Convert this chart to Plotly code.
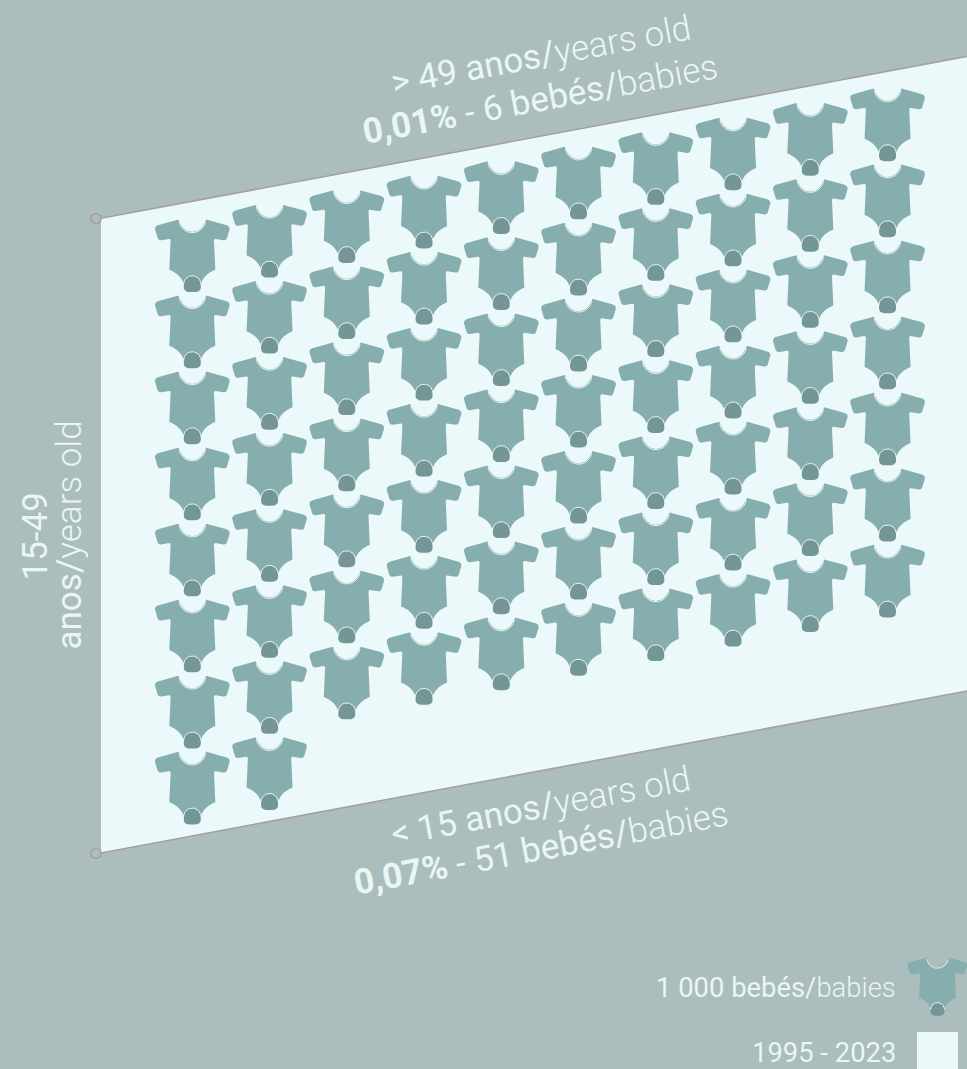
import math
import plotly.graph_objects as go

# ---- data ----
column_counts = [8, 8, 7, 7, 7, 7, 7, 7, 7, 7]   # onesies per column (1 onesie = 1 000 babies)
label_top = ["> 49 anos/", "years old", "0,01%", " - 6 bebés/", "babies"]
label_bottom = ["< 15 anos/", "years old", "0,07%", " - 51 bebés/", "babies"]
label_left = ["15-49", "anos/", "years old"]
legend_unit = ["1 000 bebés/", "babies"]
legend_period = "1995 - 2023"

# ---- styles / geometry ----
W, H = 967, 1069
BG, PANEL, BODY, DARK = "#abbdbc", "#ecf9fa", "#87aeaf", "#749696"
TXT, EDGE, SEAM = "#e9f6f6", "#a8a0a0", "#e6f3f3"
FONT = "Roboto"
ORIGIN = (192.3, 219.3)
COL_DX, COL_DY, ROW_DY = 77.25, -14.55, 76.05
SLOPE = 0.187
PANEL_X0, PANEL_X1, PANEL_TOP, PANEL_BOT = 101, 967, 218.3, 853.0
ANGLE = -10.6


def bez(p0, p1, p2, n=6):
    return [((1-t)**2*p0[0]+2*t*(1-t)*p1[0]+t*t*p2[0],
             (1-t)**2*p0[1]+2*t*(1-t)*p1[1]+t*t*p2[1]) for t in [i/n for i in range(1, n+1)]]


def arc(cx, cy, r, a0, a1, n=24):
    return [(cx+r*math.cos(math.radians(a0+(a1-a0)*i/n)),
             cy+r*math.sin(math.radians(a0+(a1-a0)*i/n))) for i in range(n+1)]


def right_half():
    pts = arc(0, 0.0, 12.5, 90, 28, 12)
    pts += [(14.0, 0.2)]
    pts += [(33.5, 5.6)]
    pts += bez((33.5, 5.6), (38.0, 6.8), (37.2, 10.5))
    pts += [(34.8, 18.5)]
    pts += bez((34.8, 18.5), (34, 21.2), (31, 20.9))
    pts += [(23.5, 19.6)]
    pts += bez((23.5, 19.6), (21.7, 19.6), (21.7, 21.5))
    pts += [(23.0, 50.5)]
    pts += bez((23.0, 50.5), (12.0, 55.0), (9.0, 63.5), 8)
    pts += [(0, 66)]
    return pts


RIGHT = right_half()
BODY_SHAPE = RIGHT + [(-x, y) for x, y in reversed(RIGHT)]
CROTCH = arc(0, 65.2, 8.4, 180, 360, 20) + [(8.5, 67.5)] + bez((8.5, 67.5), (8.6, 72.4), (3.0, 72.8), 8) + \
    [(-3.0, 72.8)] + bez((-3.0, 72.8), (-8.6, 72.4), (-8.5, 67.5), 8)
CROTCH_SEAM = arc(0, 65.2, 8.8, 183, 357, 20)
NECK_SEAM = arc(0, 0, 13.4, 170, 10, 20)[::-1]


def add_part(xs, ys, shape, cx, cy, s=1.0):
    xs.extend(cx+s*p[0] for p in shape)
    ys.extend(cy+s*p[1] for p in shape)
    xs.append(None)
    ys.append(None)


fig = go.Figure()

# panel and edges
fig.add_trace(go.Scatter(
    x=[PANEL_X0, PANEL_X1, PANEL_X1, PANEL_X0],
    y=[PANEL_TOP, PANEL_TOP-SLOPE*(PANEL_X1-PANEL_X0), PANEL_BOT-SLOPE*(PANEL_X1-PANEL_X0), PANEL_BOT],
    fill="toself", fillcolor=PANEL, mode="none", hoverinfo="skip"))
for y0 in (PANEL_TOP, PANEL_BOT):
    fig.add_trace(go.Scatter(
        x=[PANEL_X0, PANEL_X1], y=[y0, y0-SLOPE*(PANEL_X1-PANEL_X0)],
        mode="lines", line=dict(color=EDGE, width=1.6), hoverinfo="skip"))
fig.add_trace(go.Scatter(
    x=[96, 96], y=[PANEL_TOP+0.3, PANEL_BOT+0.3], mode="markers",
    marker=dict(symbol="circle-open", size=10, color=EDGE, line=dict(width=1.6, color=EDGE)),
    hoverinfo="skip"))

# onesies
bx, by, cx_, cy_, sx, sy = [], [], [], [], [], []
centres = []
for col, count in enumerate(column_counts):
    for row in range(count):
        centres.append((ORIGIN[0]+col*COL_DX, ORIGIN[1]+col*COL_DY+row*ROW_DY, 1.0))
centres.append((937.5, 957.5, 0.8))  # legend key
for x0, y0, s in centres:
    add_part(bx, by, BODY_SHAPE, x0, y0, s)
    add_part(cx_, cy_, CROTCH, x0, y0, s)
    add_part(sx, sy, CROTCH_SEAM, x0, y0, s)
    add_part(sx, sy, NECK_SEAM, x0, y0, s)
fig.add_trace(go.Scatter(x=bx, y=by, fill="toself", fillcolor=BODY, mode="none", hoverinfo="skip"))
fig.add_trace(go.Scatter(x=cx_, y=cy_, fill="toself", fillcolor=DARK, mode="none", hoverinfo="skip"))
fig.add_trace(go.Scatter(x=sx, y=sy, mode="lines", line=dict(color=SEAM, width=1), hoverinfo="skip"))


def L(t):
    return f'<span style="font-weight:300">{t}</span>'


def note(text, x, y, angle, size, xanchor="center", yanchor="middle", align="center"):
    fig.add_annotation(text=text, x=x, y=y, xref="x", yref="y", showarrow=False, textangle=angle,
                       font=dict(family=FONT, size=size, color=TXT), align=align,
                       xanchor=xanchor, yanchor=yanchor)


note(f"{label_top[0]}{L(label_top[1])}", 541, 55, ANGLE, 35)
note(f"<b>{label_top[2]}</b>{label_top[3]}{L(label_top[4])}", 540, 99, ANGLE, 35)
note(f"{label_bottom[0]}{L(label_bottom[1])}", 541, 806, ANGLE, 35)
note(f"<b>{label_bottom[2]}</b>{label_bottom[3]}{L(label_bottom[4])}", 541, 848, ANGLE, 35)
note(label_left[0], 35, 536.5, -90, 35)
note(f"{label_left[1]}{L(label_left[2])}", 69, 535.5, -90, 35)
note(f"{legend_unit[0]}{L(legend_unit[1])}", 898, 988, 0, 27.4, xanchor="right")
note(legend_period, 898, 1053, 0, 27.4, xanchor="right")

fig.add_shape(type="rect", xref="x", yref="y", x0=917, x1=958, y0=1032, y1=1069,
              fillcolor=PANEL, line_width=0, layer="above")

fig.update_layout(
    width=W, height=H, margin=dict(l=0, r=0, t=0, b=0),
    paper_bgcolor=BG, plot_bgcolor=BG, showlegend=False,
    xaxis=dict(range=[0, W], visible=False, fixedrange=True),
    yaxis=dict(range=[H, 0], visible=False, fixedrange=True),
)
fig.write_html("out.html", config={"displayModeBar": False},
               post_script="document.body.style.margin='0';document.body.style.overflow='hidden';")
